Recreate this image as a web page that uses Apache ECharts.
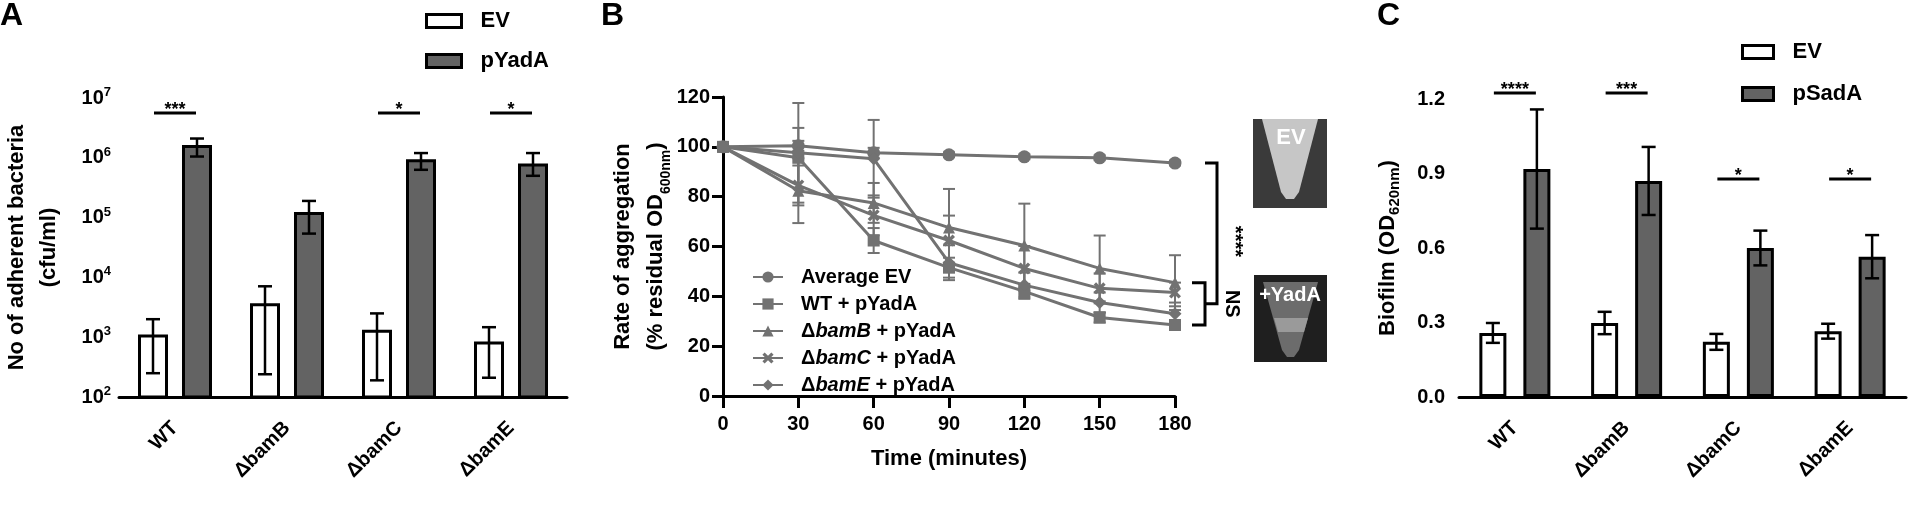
<!DOCTYPE html>
<html>
<head>
<meta charset="utf-8">
<script src="https://cdn.jsdelivr.net/npm/echarts@6/dist/echarts.min.js"></script>
<style>
  html, body { margin: 0; padding: 0; background: #fff; }
  #main { width: 1913px; height: 506px; }
</style>
</head>
<body>
<div id="main"></div>
<script>
// categories
var strains = ['WT', 'ΔbamB', 'ΔbamC', 'ΔbamE'];

// A: adherent bacteria (cfu/ml)
var adhEV = [1050, 3500, 1260, 800];
var adhEVLow = [250, 240, 190, 210];
var adhEVHigh = [2000, 7100, 2500, 1470];
var adhYadA = [1550000, 117000, 890000, 760000];
var adhYadALow = [1050000, 54000, 630000, 500000];
var adhYadAHigh = [2100000, 190000, 1200000, 1200000];
var adhStars = ['***', '', '*', '*'];
var adhStarLevel = 5600000;

// B: aggregation (% residual OD600)
var timePoints = [0, 30, 60, 90, 120, 150, 180];
var aggEV = [100, 100.4, 97.6, 96.8, 96, 95.6, 93.5];
var aggEVSd = [0, 2, 2, 1, 1, 1, 1];
var aggWT = [100, 95.6, 62.4, 51.5, 42, 31.5, 28.5];
var aggWTSd = [0, 12, 5, 4, 3, 2, 2];
var aggB = [100, 82.4, 77.5, 67.6, 60.4, 51.2, 45.5];
var aggBSd = [0, 13, 8, 15.5, 16.8, 13.2, 11];
var aggC = [100, 84.5, 72.5, 62.4, 51.2, 43.2, 41.5];
var aggCSd = [0, 8, 8, 10, 9, 6, 4];
var aggE = [100, 97.6, 95.2, 53.5, 44.5, 37.5, 33];
var aggESd = [0, 20, 15.6, 7, 5, 4, 3];
var aggNames = ['Average EV', 'WT + pYadA', 'ΔbamB + pYadA', 'ΔbamC + pYadA', 'ΔbamE + pYadA'];

// C: biofilm (OD620)
var bioEV = [0.258, 0.298, 0.222, 0.265];
var bioEVSd = [0.04, 0.045, 0.032, 0.03];
var bioSadA = [0.918, 0.87, 0.60, 0.565];
var bioSadASd = [0.24, 0.137, 0.07, 0.087];
var bioStars = ['****', '***', '*', '*'];
var bioStarLevel = [1.224, 1.224, 0.878, 0.878];

var FONT = 'Liberation Sans, Arial, Helvetica, sans-serif';
var barGray = '#636363';
var lineGray = '#727272';

var chart = echarts.init(document.getElementById('main'));

var axisLine = { lineStyle: { color: '#000', width: 3 } };
function tick(len) { return { length: len, lineStyle: { color: '#000', width: 3 } }; }
var lbl = { color: '#000', fontSize: 20, fontWeight: 'bold', fontFamily: FONT };

// bar + error bar drawn on the log axis (bars start at the axis minimum)
function adhRender(offset, fill) {
    return function (params, api) {
        var c = api.value(0);
        var top = api.coord([c, api.value(1)]);
        var base = api.coord([c, 100]);
        var lo = api.coord([c, api.value(2)]);
        var hi = api.coord([c, api.value(3)]);
        var x = top[0] + offset;
        var st = { stroke: '#000', lineWidth: 2.5 };
        return {
            type: 'group',
            children: [
                { type: 'rect', shape: { x: x - 13.5, y: top[1], width: 27, height: base[1] - top[1] },
                  style: { fill: fill, stroke: '#000', lineWidth: 3 } },
                { type: 'line', shape: { x1: x, y1: hi[1], x2: x, y2: lo[1] }, style: st },
                { type: 'line', shape: { x1: x - 7, y1: hi[1], x2: x + 7, y2: hi[1] }, style: st },
                { type: 'line', shape: { x1: x - 7, y1: lo[1], x2: x + 7, y2: lo[1] }, style: st }
            ]
        };
    };
}

function barErr(offset) {
    return function (params, api) {
        var c = api.value(0), v = api.value(1), sd = api.value(2);
        var hi = api.coord([c, v + sd]), lo = api.coord([c, v - sd]);
        var x = hi[0] + offset;
        var st = { stroke: '#000', lineWidth: 2.5 };
        return {
            type: 'group',
            children: [
                { type: 'line', shape: { x1: x, y1: hi[1], x2: x, y2: lo[1] }, style: st },
                { type: 'line', shape: { x1: x - 7, y1: hi[1], x2: x + 7, y2: hi[1] }, style: st },
                { type: 'line', shape: { x1: x - 7, y1: lo[1], x2: x + 7, y2: lo[1] }, style: st }
            ]
        };
    };
}

function lineErr(params, api) {
    var t = api.value(0), v = api.value(1), sd = api.value(2);
    if (!sd) return null;
    var hi = api.coord([t, v + sd]), lo = api.coord([t, v - sd]);
    var st = { stroke: lineGray, lineWidth: 2 };
    return {
        type: 'group',
        children: [
            { type: 'line', shape: { x1: hi[0], y1: hi[1], x2: lo[0], y2: lo[1] }, style: st },
            { type: 'line', shape: { x1: hi[0] - 6, y1: hi[1], x2: hi[0] + 6, y2: hi[1] }, style: st },
            { type: 'line', shape: { x1: lo[0] - 6, y1: lo[1], x2: lo[0] + 6, y2: lo[1] }, style: st }
        ]
    };
}

function sigRender(stars) {
    return function (params, api) {
        var c = api.value(0);
        var p = api.coord([c, api.value(1)]);
        return {
            type: 'group',
            children: [
                { type: 'line', shape: { x1: p[0] - 21, y1: p[1], x2: p[0] + 21, y2: p[1] },
                  style: { stroke: '#000', lineWidth: 3 } },
                { type: 'text', style: { text: stars[c], x: p[0], y: p[1] - 12,
                  align: 'center', verticalAlign: 'top', textAlign: 'center', textVerticalAlign: 'top',
                  font: 'bold 18px ' + FONT, fill: '#000' } }
            ]
        };
    };
}

function zip3(a, b, c, d) {
    return a.map(function (v, i) { return d ? [i, v, b[i], c[i]] : [i, v, b[i]]; });
}
function pts(vals) { return timePoints.map(function (t, i) { return [t, vals[i]]; }); }
function ptsSd(vals, sd) { return timePoints.map(function (t, i) { return [t, vals[i], sd[i]]; }); }

var xMark = 'path://M2,0 L5,3 L8,0 L10,2 L7,5 L10,8 L8,10 L5,7 L2,10 L0,8 L3,5 L0,2 Z';
var aggSets = [
    { vals: aggEV, sd: aggEVSd, symbol: 'circle', size: 13 },
    { vals: aggWT, sd: aggWTSd, symbol: 'rect', size: 12 },
    { vals: aggB, sd: aggBSd, symbol: 'triangle', size: 12 },
    { vals: aggC, sd: aggCSd, symbol: xMark, size: 12 },
    { vals: aggE, sd: aggESd, symbol: 'diamond', size: 13 }
];

var series = [
    { name: 'EV', type: 'custom', xAxisIndex: 0, yAxisIndex: 0, renderItem: adhRender(-22, '#fff'),
      encode: { x: 0, y: 1 }, data: zip3(adhEV, adhEVLow, adhEVHigh, true), itemStyle: { color: '#fff' } },
    { name: 'pYadA', type: 'custom', xAxisIndex: 0, yAxisIndex: 0, renderItem: adhRender(22, barGray),
      encode: { x: 0, y: 1 }, data: zip3(adhYadA, adhYadALow, adhYadAHigh, true), itemStyle: { color: barGray } },
    { type: 'custom', xAxisIndex: 0, yAxisIndex: 0, renderItem: sigRender(adhStars),
      data: adhStars.map(function (s, i) { return [i, adhStarLevel]; }).filter(function (d) { return adhStars[d[0]]; }) },

    { name: 'EV', type: 'bar', xAxisIndex: 2, yAxisIndex: 2, data: bioEV, barWidth: 27, barGap: '63%',
      itemStyle: { color: '#fff', borderColor: '#000', borderWidth: 3 } },
    { name: 'pSadA', type: 'bar', xAxisIndex: 2, yAxisIndex: 2, data: bioSadA, barWidth: 27, barGap: '63%',
      itemStyle: { color: barGray, borderColor: '#000', borderWidth: 3 } },
    { type: 'custom', xAxisIndex: 2, yAxisIndex: 2, renderItem: barErr(-22), data: zip3(bioEV, bioEVSd), z: 5 },
    { type: 'custom', xAxisIndex: 2, yAxisIndex: 2, renderItem: barErr(22), data: zip3(bioSadA, bioSadASd), z: 5 },
    { type: 'custom', xAxisIndex: 2, yAxisIndex: 2, renderItem: sigRender(bioStars),
      data: bioStarLevel.map(function (v, i) { return [i, v]; }) }
];

aggSets.forEach(function (s, k) {
    series.push({
        name: aggNames[k], type: 'line', xAxisIndex: 1, yAxisIndex: 1, data: pts(s.vals),
        symbol: s.symbol, symbolSize: s.size, z: 3,
        lineStyle: { color: lineGray, width: 3 }, itemStyle: { color: lineGray }
    });
    series.push({
        type: 'custom', xAxisIndex: 1, yAxisIndex: 1, renderItem: lineErr, z: 2,
        data: ptsSd(s.vals, s.sd)
    });
});

var legendText = { color: '#000', fontSize: 22, fontWeight: 'bold', fontFamily: FONT, lineHeight: 22, padding: [0, 0, 0, 14] };

var option = {
    animation: false,
    backgroundColor: '#fff',
    textStyle: { fontFamily: FONT },
    grid: [
        { left: 118, top: 98, width: 449, height: 299 },
        { left: 723, top: 97, width: 452, height: 299 },
        { left: 1459, top: 99, width: 447, height: 298 }
    ],
    legend: [
        { left: 420, top: 5, orient: 'vertical', itemWidth: 35, itemHeight: 13, itemGap: 18, selectedMode: false,
          textStyle: legendText,
          data: [
              { name: 'EV', icon: 'rect', itemStyle: { color: '#fff', borderColor: '#000', borderWidth: 3 } },
              { name: 'pYadA', icon: 'rect', itemStyle: { color: barGray, borderColor: '#000', borderWidth: 3 } }
          ] },
        { left: 1736, top: 36, orient: 'vertical', itemWidth: 31, itemHeight: 13, itemGap: 20, selectedMode: false,
          textStyle: legendText,
          data: [
              { name: 'EV', icon: 'rect', itemStyle: { color: '#fff', borderColor: '#000', borderWidth: 3 } },
              { name: 'pSadA', icon: 'rect', itemStyle: { color: barGray, borderColor: '#000', borderWidth: 3 } }
          ] },
        { left: 747, top: 262, orient: 'vertical', itemWidth: 30, itemHeight: 14, itemGap: 7, selectedMode: false,
          data: aggNames,
          formatter: function (name) {
              if (name.charAt(0) === 'Δ') {
                  return '{n|Δ}{i|' + name.slice(1, 5) + '}{n|' + name.slice(5) + '}';
              }
              return '{n|' + name + '}';
          },
          textStyle: { color: '#000', fontSize: 20, fontWeight: 'bold', lineHeight: 20, padding: [0, 0, 0, 13],
              rich: {
                  n: { fontSize: 20, fontWeight: 'bold', fontFamily: FONT, color: '#000' },
                  i: { fontSize: 20, fontWeight: 'bold', fontStyle: 'italic', fontFamily: FONT, color: '#000' }
              } } }
    ],
    xAxis: [
        { gridIndex: 0, type: 'category', data: strains, axisLine: axisLine,
          axisTick: { alignWithLabel: true, length: 12, lineStyle: { color: '#000', width: 3 } },
          axisLabel: Object.assign({ rotate: 45, margin: 28, interval: 0 }, lbl) },
        { gridIndex: 1, type: 'value', min: 0, max: 180, interval: 30, axisLine: axisLine, axisTick: tick(12),
          splitLine: { show: false }, axisLabel: Object.assign({ margin: 18 }, lbl),
          name: 'Time (minutes)', nameLocation: 'middle', nameGap: 52,
          nameTextStyle: { color: '#000', fontSize: 22, fontWeight: 'bold', fontFamily: FONT } },
        { gridIndex: 2, type: 'category', data: strains, axisLine: axisLine,
          axisTick: { alignWithLabel: true, length: 12, lineStyle: { color: '#000', width: 3 } },
          axisLabel: Object.assign({ rotate: 45, margin: 28, interval: 0 }, lbl) }
    ],
    yAxis: [
        { gridIndex: 0, type: 'log', logBase: 10, min: 100, max: 10000000, axisLine: axisLine, axisTick: tick(10),
          splitLine: { show: false }, minorTick: { show: false },
          axisLabel: { margin: 8, formatter: function (v) {
              return '{b|10}{s|' + Math.round(Math.log10(v)) + '}';
          }, rich: {
              b: { fontSize: 20, fontWeight: 'bold', fontFamily: FONT, color: '#000', lineHeight: 24 },
              s: { fontSize: 13, fontWeight: 'bold', fontFamily: FONT, color: '#000', lineHeight: 24, verticalAlign: 'top' }
          } },
          name: 'No of adherent bacteria\n(cfu/ml)', nameLocation: 'middle', nameGap: 54,
          nameTextStyle: { color: '#000', fontSize: 22, fontWeight: 'bold', fontFamily: FONT, lineHeight: 32 } },
        { gridIndex: 1, type: 'value', min: 0, max: 120, interval: 20, axisLine: axisLine, axisTick: tick(11),
          splitLine: { show: false }, axisLabel: Object.assign({ margin: 13 }, lbl),
          name: '{t|Rate of aggregation}\n{t|(% residual OD}{s|600nm}{t|)}', nameLocation: 'middle', nameGap: 48,
          nameTextStyle: { rich: {
              t: { fontSize: 22, fontWeight: 'bold', fontFamily: FONT, color: '#000', lineHeight: 33 },
              s: { fontSize: 14, fontWeight: 'bold', fontFamily: FONT, color: '#000', lineHeight: 33, verticalAlign: 'bottom' }
          } } },
        { gridIndex: 2, type: 'value', min: 0, max: 1.2, interval: 0.3, axisLine: axisLine, axisTick: tick(10),
          splitLine: { show: false },
          axisLabel: Object.assign({ margin: 14, formatter: function (v) { return v.toFixed(1); } }, lbl),
          name: '{t|Biofilm (OD}{s|620nm}{t|)}', nameLocation: 'middle', nameGap: 57,
          nameTextStyle: { rich: {
              t: { fontSize: 22, fontWeight: 'bold', fontFamily: FONT, color: '#000', lineHeight: 28 },
              s: { fontSize: 15, fontWeight: 'bold', fontFamily: FONT, color: '#000', lineHeight: 28, verticalAlign: 'bottom' }
          } } }
    ],
    series: series
};
chart.setOption(option);

// annotations: panel letters, significance brackets and tube photos (drawn)
function py(v) { return chart.convertToPixel({ gridIndex: 1 }, [180, v])[1]; }
var xEnd = chart.convertToPixel({ gridIndex: 1 }, [180, 0])[0];
var lastYad = [aggWT[6], aggB[6], aggC[6], aggE[6]];
var yTop = py(aggEV[6]);
var ySmallTop = py(Math.max.apply(null, lastYad));
var ySmallBot = py(Math.min.apply(null, lastYad));
var yMid = (ySmallTop + ySmallBot) / 2;
var bk = { stroke: '#000', lineWidth: 3, fill: null };
var letter = { font: 'bold 32px ' + FONT, fill: '#000' };

chart.setOption({
    graphic: [
        { type: 'text', left: 0, top: 0, style: Object.assign({ text: 'A' }, letter) },
        { type: 'text', left: 601, top: 0, style: Object.assign({ text: 'B' }, letter) },
        { type: 'text', left: 1377, top: 0, style: Object.assign({ text: 'C' }, letter) },
        { type: 'polyline', shape: { points: [[xEnd + 30, yTop], [xEnd + 42, yTop], [xEnd + 42, yMid], [xEnd + 30, yMid]] }, style: bk },
        { type: 'polyline', shape: { points: [[xEnd + 17, ySmallTop], [xEnd + 30, ySmallTop], [xEnd + 30, ySmallBot], [xEnd + 17, ySmallBot]] }, style: bk },
        { type: 'text', x: xEnd + 60, y: (yTop + yMid) / 2 + 8, rotation: -Math.PI / 2,
          style: { text: '****', font: 'bold 20px ' + FONT, fill: '#000', align: 'center', verticalAlign: 'middle' } },
        { type: 'text', x: xEnd + 57, y: (ySmallTop + ySmallBot) / 2, rotation: -Math.PI / 2,
          style: { text: 'NS', font: 'bold 20px ' + FONT, fill: '#000', align: 'center', verticalAlign: 'middle' } },
        // EV tube
        { type: 'rect', shape: { x: 1253, y: 119, width: 74, height: 89 }, style: { fill: '#3a3a3a' } },
        { type: 'polygon', shape: { points: [[1262, 119], [1318, 119], [1299, 192], [1294, 199], [1286, 199], [1281, 192]] },
          style: { fill: '#c6c6c6' } },
        { type: 'text', x: 1291, y: 138, style: { text: 'EV', font: 'bold 22px ' + FONT, fill: '#fff', align: 'center', verticalAlign: 'middle' } },
        // +YadA tube
        { type: 'rect', shape: { x: 1254, y: 275, width: 73, height: 87 }, style: { fill: '#1f1f1f' } },
        { type: 'polygon', shape: { points: [[1263, 282], [1318, 282], [1299, 350], [1294, 357], [1287, 357], [1282, 350]] },
          style: { fill: '#6c6c6c' } },
        { type: 'polygon', shape: { points: [[1274, 318], [1308, 318], [1304, 332], [1278, 332]] }, style: { fill: '#9a9a9a' } },
        { type: 'text', x: 1290, y: 295, style: { text: '+YadA', font: 'bold 20px ' + FONT, fill: '#fff', align: 'center', verticalAlign: 'middle' } }
    ]
});
</script>
</body>
</html>
